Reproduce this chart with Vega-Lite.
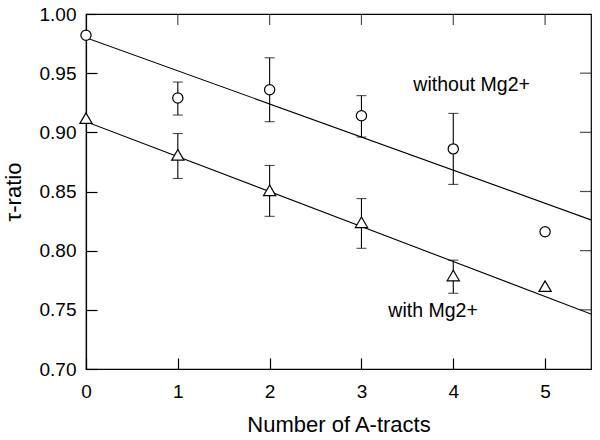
{
  "$schema": "https://vega.github.io/schema/vega-lite/v6.json",
  "width": 505,
  "height": 355,
  "autosize": {"type": "none"},
  "padding": {"left": 86, "top": 14, "right": 9, "bottom": 71},
  "background": "white",
  "config": {
    "view": {"stroke": "black", "strokeWidth": 1.2},
    "font": "Liberation Sans",
    "axis": {
      "grid": false,
      "labelFont": "Liberation Sans",
      "labelFontSize": 19,
      "labelColor": "black",
      "titleFont": "Liberation Sans",
      "titleFontSize": 22,
      "titleFontWeight": "normal",
      "titleColor": "black"
    }
  },
  "datasets": {
    "pts": [
      {"series": "without", "x": 0, "y": 0.982},
      {"series": "without", "x": 1, "y": 0.929, "lo": 0.9146, "hi": 0.9425},
      {"series": "without", "x": 2, "y": 0.936, "lo": 0.909, "hi": 0.963},
      {"series": "without", "x": 3, "y": 0.914, "lo": 0.896, "hi": 0.931},
      {"series": "without", "x": 4, "y": 0.886, "lo": 0.856, "hi": 0.916},
      {"series": "without", "x": 5, "y": 0.816},
      {"series": "with", "x": 0, "y": 0.912},
      {"series": "with", "x": 1, "y": 0.881, "lo": 0.861, "hi": 0.899},
      {"series": "with", "x": 2, "y": 0.851, "lo": 0.829, "hi": 0.872},
      {"series": "with", "x": 3, "y": 0.824, "lo": 0.802, "hi": 0.844},
      {"series": "with", "x": 4, "y": 0.779, "lo": 0.764, "hi": 0.792},
      {"series": "with", "x": 5, "y": 0.770}
    ],
    "fits": [
      {"series": "without", "x": 0, "y": 0.980},
      {"series": "without", "x": 5.5, "y": 0.826},
      {"series": "with", "x": 0, "y": 0.909},
      {"series": "with", "x": 5.5, "y": 0.7465}
    ],
    "topticks": [{"x": 1, "y": 1.0}, {"x": 2, "y": 1.0}, {"x": 3, "y": 1.0}, {"x": 4, "y": 1.0}, {"x": 5, "y": 1.0}],
    "rightticks": [{"x": 5.5, "y": 0.75}, {"x": 5.5, "y": 0.8}, {"x": 5.5, "y": 0.85}, {"x": 5.5, "y": 0.9}, {"x": 5.5, "y": 0.95}],
    "labels": [
      {"x": 4.2, "y": 0.940, "text": "without Mg2+"},
      {"x": 3.78, "y": 0.7487, "text": "with Mg2+"}
    ]
  },
  "layer": [
    {
      "data": {"name": "fits"},
      "mark": {"type": "line", "color": "black", "strokeWidth": 1.1, "clip": true},
      "encoding": {
        "x": {"field": "x", "type": "quantitative", "scale": {"domain": [0, 5.5], "nice": false},
              "axis": {"orient": "bottom", "tickCount": 6, "format": "d", "domainColor": "black", "domainWidth": 1.2, "tickColor": "black", "tickWidth": 1.2, "tickSize": -11, "labelFlush": false, "labelPadding": 24, "title": "Number of A-tracts", "titlePadding": 13}},
        "y": {"field": "y", "type": "quantitative", "scale": {"domain": [0.7, 1.0], "nice": false, "zero": false},
              "axis": {"orient": "left", "tickCount": 6, "format": ".2f", "domainColor": "black", "domainWidth": 1.2, "tickColor": "black", "tickWidth": 1.2, "tickSize": -11, "labelFlush": false, "labelPadding": 21, "title": "τ-ratio", "titlePadding": 14}},
        "detail": {"field": "series"}
      }
    },
    {
      "data": {"name": "topticks"},
      "mark": {"type": "tick", "orient": "vertical", "size": 11, "thickness": 1.2, "color": "black", "yOffset": 5.5},
      "encoding": {
        "x": {"field": "x", "type": "quantitative"},
        "y": {"field": "y", "type": "quantitative"}
      }
    },
    {
      "data": {"name": "rightticks"},
      "mark": {"type": "tick", "orient": "horizontal", "size": 11, "thickness": 1.2, "color": "black", "xOffset": -5.5},
      "encoding": {
        "x": {"field": "x", "type": "quantitative"},
        "y": {"field": "y", "type": "quantitative"}
      }
    },
    {
      "data": {"name": "pts"},
      "transform": [{"filter": "isValid(datum.lo)"}],
      "mark": {"type": "rule", "color": "black", "strokeWidth": 1.1},
      "encoding": {
        "x": {"field": "x", "type": "quantitative"},
        "y": {"field": "lo", "type": "quantitative"},
        "y2": {"field": "hi"}
      }
    },
    {
      "data": {"name": "pts"},
      "transform": [{"filter": "isValid(datum.lo)"}],
      "mark": {"type": "tick", "orient": "horizontal", "size": 10, "thickness": 1.1, "color": "black"},
      "encoding": {
        "x": {"field": "x", "type": "quantitative"},
        "y": {"field": "lo", "type": "quantitative"}
      }
    },
    {
      "data": {"name": "pts"},
      "transform": [{"filter": "isValid(datum.hi)"}],
      "mark": {"type": "tick", "orient": "horizontal", "size": 10, "thickness": 1.1, "color": "black"},
      "encoding": {
        "x": {"field": "x", "type": "quantitative"},
        "y": {"field": "hi", "type": "quantitative"}
      }
    },
    {
      "data": {"name": "pts"},
      "mark": {"type": "point", "filled": false, "fill": "white", "fillOpacity": 1, "stroke": "black", "strokeWidth": 1.2, "opacity": 1},
      "encoding": {
        "x": {"field": "x", "type": "quantitative"},
        "y": {"field": "y", "type": "quantitative"},
        "shape": {"field": "series", "type": "nominal", "scale": {"domain": ["without", "with"], "range": ["circle", "triangle-up"]}, "legend": null},
        "size": {"field": "series", "type": "nominal", "scale": {"domain": ["without", "with"], "range": [105, 150]}, "legend": null}
      }
    },
    {
      "data": {"name": "labels"},
      "mark": {"type": "text", "font": "Liberation Sans", "fontSize": 19.5, "color": "black", "align": "center", "baseline": "middle"},
      "encoding": {
        "x": {"field": "x", "type": "quantitative"},
        "y": {"field": "y", "type": "quantitative"},
        "text": {"field": "text"}
      }
    }
  ]
}
